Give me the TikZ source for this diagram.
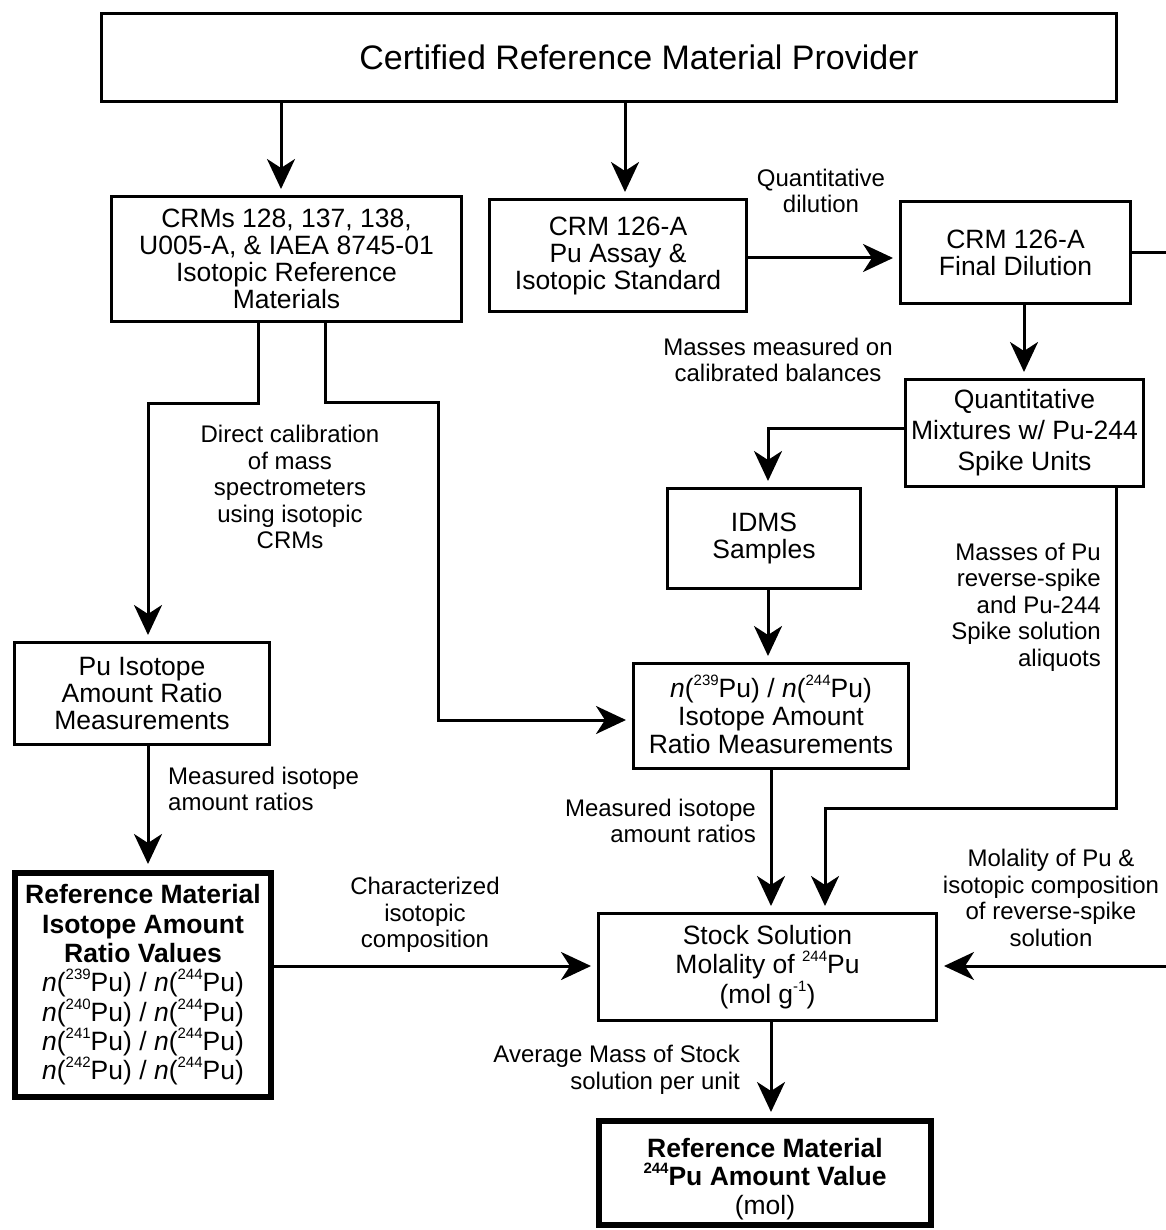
\documentclass[tikz,border=0pt]{standalone}
\usepackage{fontspec}
\setmainfont{Liberation Sans}
\usetikzlibrary{arrows.meta}
\newcommand\sups[1]{\raisebox{0.45em}[0pt][0pt]{\fontsize{15}{15}\selectfont #1}}
\begin{document}
\begin{tikzpicture}[x=1pt,y=-1pt,
  box/.style={draw, line width=3pt, inner sep=0pt, align=center, font=\fontsize{26.5}{27}\selectfont},
  bbox/.style={box, line width=6pt},
  lab/.style={inner sep=0pt, font=\fontsize{24}{26.5}\selectfont},
  arr/.style={line width=3pt, shorten >=6pt, -{Stealth[length=30pt,width=28pt,inset=9pt]}},
  ln/.style={line width=3pt}]
\useasboundingbox (0,0) rectangle (1165,1230);

\node[box, minimum width=1015pt, minimum height=88pt, font=\fontsize{34}{36}\selectfont] (top) at (609,57.5) {\hspace*{60pt}Certified Reference Material Provider};
\node[box, minimum width=350pt, minimum height=125pt] (crms) at (286.5,259) {CRMs 128, 137, 138,\\U005-A, \& IAEA 8745-01\\Isotopic Reference\\Materials};
\node[box, minimum width=257pt, minimum height=112pt] (crm126) at (618,255.5) {CRM 126-A\\Pu Assay \&\\Isotopic Standard};
\node[box, minimum width=230pt, minimum height=102pt] (final) at (1015.5,252.5) {CRM 126-A\\Final Dilution};
\node[box, minimum width=238pt, minimum height=107pt, font=\fontsize{26.5}{31}\selectfont] (mix) at (1024.5,433) {Quantitative\\Mixtures w/ Pu-244\\Spike Units};
\node[box, minimum width=193pt, minimum height=100pt] (idms) at (764,538.5) {IDMS\\Samples};
\node[box, minimum width=255pt, minimum height=102pt] (puratio) at (142,693.5) {Pu Isotope\\Amount Ratio\\Measurements};
\node[box, minimum width=275pt, minimum height=105pt, font=\fontsize{26.5}{28}\selectfont] (n239) at (771,716) {\textit{n}(\sups{239}Pu) / \textit{n}(\sups{244}Pu)\\Isotope Amount\\Ratio Measurements};
\node[bbox, minimum width=256pt, minimum height=224pt, font=\fontsize{26.5}{29.3}\selectfont] (refiso) at (143,985) {\textbf{Reference Material}\\\textbf{Isotope Amount}\\\textbf{Ratio Values}\\\textit{n}(\sups{239}Pu) / \textit{n}(\sups{244}Pu)\\\textit{n}(\sups{240}Pu) / \textit{n}(\sups{244}Pu)\\\textit{n}(\sups{241}Pu) / \textit{n}(\sups{244}Pu)\\\textit{n}(\sups{242}Pu) / \textit{n}(\sups{244}Pu)};
\node[box, minimum width=338pt, minimum height=107pt, font=\fontsize{26.5}{29.5}\selectfont] (stock) at (767.5,967) {Stock Solution\\Molality of \sups{244}Pu\\(mol g\sups{-1})};
\node[bbox, minimum width=332pt, minimum height=104pt, font=\fontsize{26.5}{28.5}\selectfont] (refpu) at (765,1173) {\rule{0pt}{31pt}\textbf{Reference Material}\\\textbf{\sups{244}Pu Amount Value}\\(mol)};

% labels
\node[lab, align=center] (l1) at (821,191) {Quantitative\\dilution};
\node[lab, align=center] (l2) at (778,360) {Masses measured on\\calibrated balances};
\node[lab, align=center] (l3) at (290,487) {Direct calibration\\of mass\\spectrometers\\using isotopic\\CRMs};
\node[lab, align=left, anchor=west] (l4) at (168,789) {Measured isotope\\amount ratios};
\node[lab, align=right, anchor=east] (l5) at (756,821) {Measured isotope\\amount ratios};
\node[lab, align=right, anchor=east] (l6) at (1101,607) {Masses of Pu\\reverse-spike\\and Pu-244\\Spike solution\\aliquots};
\node[lab, align=center] (l7) at (1051,898) {Molality of Pu \&\\isotopic composition\\of reverse-spike\\solution};
\node[lab, align=center] (l8) at (425,915) {Characterized\\isotopic\\composition};
\node[lab, align=right, anchor=east] (l9) at (740,1070) {Average Mass of Stock\\solution per unit};

% bend points
\coordinate (re1) at (1170,252.5);
\coordinate (re2) at (1170,966);
\coordinate (a1) at (258,403);
\coordinate (a2) at (148,403);
\coordinate (b1) at (325,402);
\coordinate (b2) at (438,402);
\coordinate (b3) at (438,720);
\coordinate (c1) at (768,428);
\coordinate (d1) at (1116,808);
\coordinate (d2) at (825,808);

% connectors
\draw[arr] (top.south -| 281,0) -- (crms.north -| 281,0);
\draw[arr] (top.south -| 625,0) -- (crm126.north -| 625,0);
\draw[arr] (crm126.east |- 0,258) -- (final.west |- 0,258);
\draw[arr] (final.east) -- (re1) -- (re2) -- (stock.east |- re2);
\draw[arr] (final.south -| 1024,0) -- (mix.north -| 1024,0);
\draw[arr] (mix.west |- c1) -- (c1) -- (idms.north -| c1);
\draw[arr] (idms.south -| 768,0) -- (n239.north -| 768,0);
\draw[arr] (crms.south -| a1) -- (a1) -- (a2) -- (puratio.north -| a2);
\draw[arr] (crms.south -| b1) -- (b1) -- (b2) -- (b3) -- (n239.west |- b3);
\draw[arr] (puratio.south -| 148,0) -- (refiso.north -| 148,0);
\draw[arr] (n239.south -| 771,0) -- (stock.north -| 771,0);
\draw[arr] (mix.south -| d1) -- (d1) -- (d2) -- (stock.north -| d2);
\draw[arr] (refiso.east |- 0,966) -- (stock.west |- 0,966);
\draw[arr] (stock.south -| 771,0) -- (refpu.north -| 771,0);
\end{tikzpicture}
\end{document}
